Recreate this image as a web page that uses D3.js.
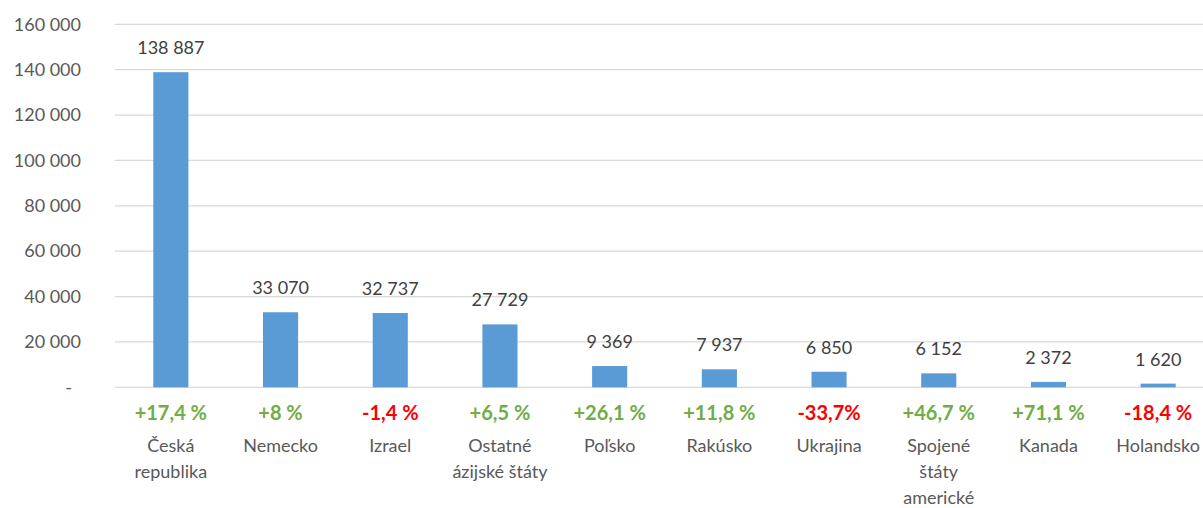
<!DOCTYPE html>
<html>
<head>
<meta charset="utf-8">
<script src="https://cdn.jsdelivr.net/npm/d3@7"></script>
<style>
  body { margin: 0; background: #fff; }
  svg text { font-family: Lato, "Open Sans", sans-serif; }
</style>
</head>
<body>
<svg id="chart"></svg>
<script>
// data
const countries = ["Česká republika", "Nemecko", "Izrael", "Ostatné ázijské štáty", "Poľsko",
    "Rakúsko", "Ukrajina", "Spojené štáty americké", "Kanada", "Holandsko"];
const countryLines = [["Česká", "republika"], ["Nemecko"], ["Izrael"], ["Ostatné", "ázijské štáty"], ["Poľsko"],
    ["Rakúsko"], ["Ukrajina"], ["Spojené", "štáty", "americké"], ["Kanada"], ["Holandsko"]];
const visitors = [138887, 33070, 32737, 27729, 9369, 7937, 6850, 6152, 2372, 1620];
const changes = ["+17,4 %", "+8 %", "-1,4 %", "+6,5 %", "+26,1 %", "+11,8 %", "-33,7%", "+46,7 %", "+71,1 %", "-18,4 %"];
const yTicks = [0, 20000, 40000, 60000, 80000, 100000, 120000, 140000, 160000];

const width = 1203, height = 508;
const svg = d3.select("#chart").attr("width", width).attr("height", height);

const x = d3.scaleBand()
    .domain(countries)
    .range([116, 1213])
    .paddingInner(0.68)
    .paddingOuter(0.34);

const y = d3.scaleLinear()
    .domain([0, 160000])
    .range([387.3, 24.3]);

const fmt = v => d3.format(",")(v).replace(/,/g, " ");

// gridlines
svg.append("g").selectAll("line")
    .data(yTicks)
    .join("line")
    .attr("x1", 115).attr("x2", width)
    .attr("y1", d => y(d)).attr("y2", d => y(d))
    .attr("stroke", "#d9d9d9")
    .attr("stroke-width", 1.3);

// y tick labels
svg.append("g").selectAll("text")
    .data(yTicks)
    .join("text")
    .attr("x", d => d === 0 ? 72 : 81)
    .attr("y", d => y(d))
    .attr("dy", "0.35em")
    .attr("text-anchor", "end")
    .attr("fill", "#595959")
    .style("font-size", "18px")
    .text(d => d === 0 ? "-" : fmt(d));

// bars
svg.append("g").selectAll("rect")
    .data(visitors)
    .join("rect")
    .attr("x", (d, i) => x(countries[i]))
    .attr("width", x.bandwidth())
    .attr("y", d => y(d))
    .attr("height", d => y(0) - y(d))
    .attr("fill", "#5b9bd5");

// value labels
svg.append("g").selectAll("text")
    .data(visitors)
    .join("text")
    .attr("x", (d, i) => x(countries[i]) + x.bandwidth() / 2)
    .attr("y", d => y(d) - 18)
    .attr("text-anchor", "middle")
    .attr("fill", "#404040")
    .style("font-size", "18px")
    .text(d => fmt(d));

// change labels
svg.append("g").selectAll("text")
    .data(changes)
    .join("text")
    .attr("x", (d, i) => x(countries[i]) + x.bandwidth() / 2)
    .attr("y", 413)
    .attr("dy", "0.35em")
    .attr("text-anchor", "middle")
    .attr("fill", d => d.startsWith("-") ? "#ff0000" : "#70ad47")
    .style("font-size", "20px")
    .style("font-weight", "bold")
    .text(d => d);

// category labels
const cat = svg.append("g").selectAll("text")
    .data(countryLines)
    .join("text")
    .attr("text-anchor", "middle")
    .attr("fill", "#595959")
    .style("font-size", "18px");

cat.each(function(lines, i) {
    const cx = x(countries[i]) + x.bandwidth() / 2;
    d3.select(this).selectAll("tspan")
        .data(lines)
        .join("tspan")
        .attr("x", cx)
        .attr("y", (l, j) => 446 + j * 26)
        .attr("dy", "0.35em")
        .text(l => l);
});
</script>
</body>
</html>
